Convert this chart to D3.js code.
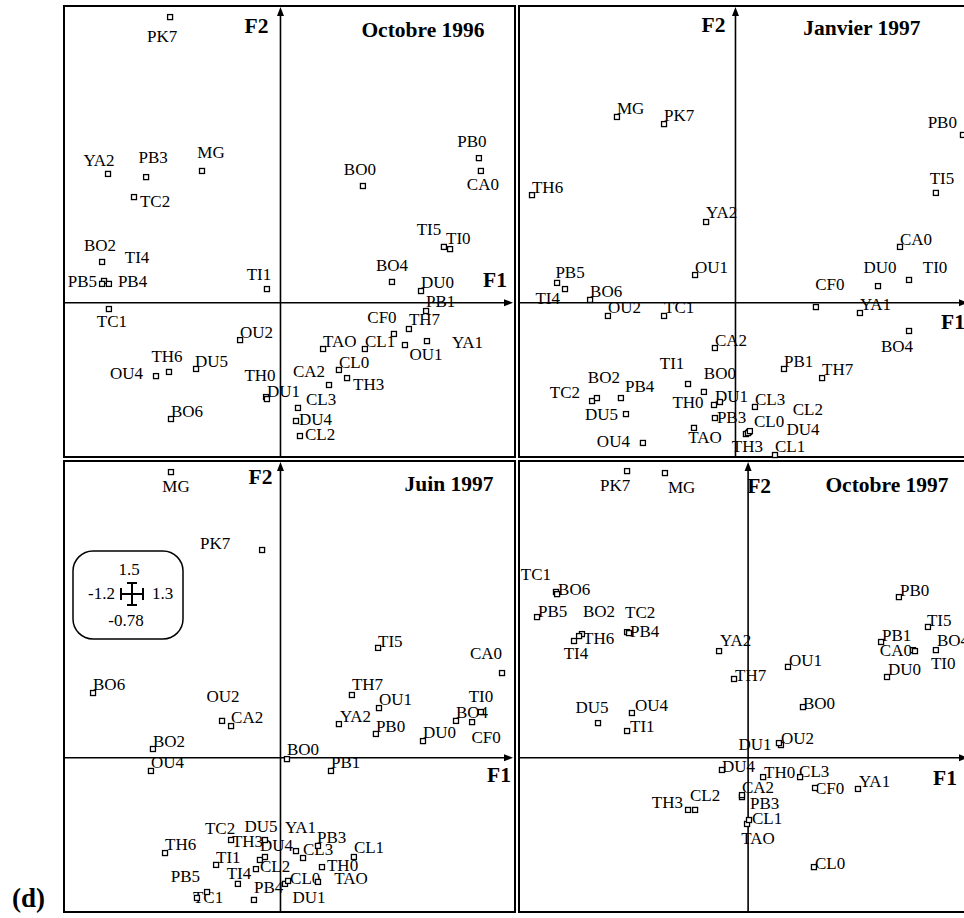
<!DOCTYPE html>
<html>
<head>
<meta charset="utf-8">
<script src="https://cdn.jsdelivr.net/npm/d3@7"></script>
<style>
  body { margin: 0; background: #fff; }
  svg { display: block; }
  text { font-family: "Liberation Serif", "Times New Roman", serif; fill: #000; }
</style>
</head>
<body>
<svg id="chart" width="964" height="918"></svg>
<script>
// sample codes, same order in every period
const samples = ["PK7","MG","YA2","PB3","TC2","BO0","PB0","CA0","BO2","TI4","PB5","PB4","TI1","TC1","OU2","TH6","OU4","DU5","BO6","TH0","DU1","TI5","TI0","BO4","DU0","PB1","CF0","TH7","TAO","CL1","OU1","YA1","CL0","TH3","CA2","CL3","DU4","CL2"]

const periods = ["Octobre 1996", "Janvier 1997", "Juin 1997", "Octobre 1997"]

// F1 / F2 coordinates
const f1Oct96 = [-0.612,-0.435,-0.956,-0.745,-0.812,0.457,1.100,1.111,-0.989,-0.978,-0.989,-0.951,-0.075,-0.951,-0.224,-0.618,-0.690,-0.468,-0.607,-0.080,-0.075,0.906,0.940,0.618,0.779,0.807,0.629,0.712,0.236,0.468,0.690,0.812,0.324,0.369,0.269,0.097,0.086,0.108]
const f2Oct96 = [1.444,0.666,0.651,0.635,0.534,0.590,0.731,0.666,0.206,0.110,0.095,0.095,0.069,-0.032,-0.189,-0.350,-0.371,-0.335,-0.588,-0.477,-0.487,0.282,0.271,0.105,0.059,-0.042,-0.158,-0.133,-0.234,-0.234,-0.214,-0.194,-0.340,-0.381,-0.416,-0.532,-0.598,-0.674]

const f1Jan97 = [-0.396,-0.657,-0.163,-0.114,-0.795,-0.175,1.261,0.912,-0.768,-0.945,-0.989,-0.635,-0.263,-0.396,-0.707,-1.128,-0.513,-0.607,-0.806,-0.119,-0.086,1.111,0.962,0.962,0.790,0.269,0.446,0.480,-0.230,0.219,-0.224,0.690,0.075,0.058,-0.114,0.108,0.069,0.080]
const f2Jan97 = [0.903,0.939,0.408,-0.583,-0.497,-0.451,0.848,0.282,-0.482,0.069,0.100,-0.482,-0.411,-0.067,-0.067,0.544,-0.709,-0.563,0.014,-0.517,-0.502,0.555,0.115,-0.143,0.084,-0.335,-0.022,-0.381,-0.633,-0.770,0.140,-0.052,-0.654,-0.664,-0.229,-0.527,-0.659,-0.649]

const f1Jun97 = [-0.102,-0.607,0.324,0.208,-0.274,0.036,0.529,1.228,-0.707,-0.236,-0.407,-0.147,-0.357,-0.463,-0.324,-0.640,-0.718,-0.086,-1.039,0.230,0.025,0.541,1.111,0.973,0.790,0.280,1.062,0.396,0.208,0.407,0.546,-0.086,0.042,-0.114,-0.274,0.125,0.086,-0.136]
const f2Jun97 = [1.050,1.444,0.170,-0.446,-0.416,-0.007,0.120,0.428,0.044,-0.638,-0.679,-0.719,-0.542,-0.709,0.186,-0.482,-0.067,-0.416,0.327,-0.553,-0.638,0.555,0.231,0.186,0.084,-0.067,0.180,0.317,-0.628,-0.502,0.251,-0.502,-0.623,-0.517,0.160,-0.507,-0.472,-0.563]

const f1Oct97 = [-0.671,-0.461,-0.161,-0.034,-0.671,0.304,0.836,0.914,-0.921,-0.965,-1.170,-0.660,-0.671,-1.065,0.182,-0.937,-0.644,-0.832,-1.059,0.083,0.171,0.997,0.925,1.041,0.770,0.737,0.371,-0.078,-0.006,0.005,0.221,0.609,0.365,-0.333,-0.034,0.288,-0.145,-0.294]
const f2Oct97 = [1.449,1.439,0.539,-0.199,0.635,0.256,0.812,0.544,0.625,0.590,0.711,0.630,0.135,0.838,0.064,0.615,0.226,0.175,0.827,-0.098,0.074,0.661,0.539,0.544,0.408,0.585,-0.153,0.398,-0.335,-0.315,0.459,-0.158,-0.553,-0.264,-0.189,-0.098,-0.062,-0.264]

// plotted range of each map
const f1Range = [[-1.2, 1.3], [-1.2, 1.3], [-1.2, 1.3], [-1.27, 1.23]]
const f2Range = [[-0.78, 1.5], [-0.78, 1.5], [-0.78, 1.5], [-0.78, 1.5]]

// label placement next to each point: dx, dy (px), anchor s/m/e
const labOct96 = {PK7:[-8,25,"m"],MG:[9,-13,"m"],YA2:[-9,-8,"m"],PB3:[7,-14,"m"],TC2:[6,10,"s"],BO0:[-3,-11,"m"],PB0:[-7,-11,"m"],CA0:[2,19,"m"],BO2:[-2,-11,"m"],TI4:[33,-18,"m"],PB5:[-5,3,"e"],PB4:[9,3,"s"],TI1:[-8,-9,"m"],TC1:[3,18,"m"],OU2:[0,-2,"s"],TH6:[-2,-10,"m"],OU4:[-13,3,"e"],DU5:[-1,-2,"s"],BO6:[0,-2,"s"],TH0:[-6,-16,"m"],DU1:[0,-2,"s"],TI5:[-15,-12,"m"],TI0:[-4,-5,"s"],BO4:[0,-11,"m"],DU0:[0,-3,"s"],PB1:[0,-4,"s"],CF0:[-12,-11,"m"],TH7:[0,-4,"s"],TAO:[0,-2,"s"],CL1:[0,-2,"s"],OU1:[21,15,"m"],YA1:[25,7,"s"],CL0:[0,-2,"s"],TH3:[6,12,"s"],CA2:[-20,-8,"m"],CL3:[8,-3,"s"],DU4:[3,4,"s"],CL2:[5,4,"s"]}
const labJan97 = {MG:[0,-3,"s"],PK7:[0,-3,"s"],TH6:[0,-2,"s"],YA2:[0,-4,"s"],PB0:[-6,-7,"e"],TI5:[6,-9,"m"],PB5:[13,-5,"m"],TI4:[-5,15,"e"],BO6:[0,-3,"s"],OU1:[0,-2,"s"],OU2:[0,-3,"s"],TC1:[0,-3,"s"],CA2:[0,-2,"s"],TI1:[-16,-15,"m"],BO0:[16,-13,"m"],BO2:[7,-15,"m"],TC2:[-12,-3,"e"],PB4:[4,-6,"s"],DU5:[-8,6,"e"],TH0:[-26,3,"m"],DU1:[-5,0,"s"],PB3:[2,5,"s"],TAO:[11,15,"m"],OU4:[-13,4,"e"],CA0:[0,-2,"s"],DU0:[2,-13,"m"],TI0:[26,-7,"m"],CF0:[14,-17,"m"],YA1:[0,-3,"s"],BO4:[-12,21,"m"],PB1:[0,-2,"s"],TH7:[0,-3,"s"],CL3:[0,-2,"s"],CL2:[58,-16,"m"],CL0:[5,-5,"s"],DU4:[55,2,"m"],TH3:[17,18,"e"],CL1:[0,-3,"s"]}
const labJun97 = {MG:[5,20,"m"],PK7:[-47,-1,"m"],BO6:[0,-3,"s"],OU2:[1,-19,"m"],CA2:[0,-3,"s"],BO2:[0,-2,"s"],OU4:[0,-3,"s"],BO0:[0,-4,"s"],TI5:[0,-1,"s"],CA0:[-16,-14,"m"],TH7:[0,-5,"s"],OU1:[0,-3,"s"],YA2:[1,-2,"s"],PB0:[0,-2,"s"],TI0:[0,-10,"m"],BO4:[0,-3,"s"],CF0:[14,21,"m"],DU0:[0,-3,"s"],PB1:[0,-3,"s"],TC2:[-11,-6,"m"],TH3:[-28,-13,"s"],DU5:[-4,-8,"m"],DU4:[-3,0,"e"],YA1:[20,-24,"s"],CL2:[4,3,"s"],CL3:[0,-3,"s"],PB3:[-1,-3,"s"],CL1:[0,-4,"s"],TH6:[0,-3,"s"],TI1:[0,-2,"s"],TH0:[5,4,"s"],PB5:[-7,-10,"e"],TI4:[1,-5,"m"],CL0:[2,3,"s"],DU1:[24,19,"m"],TAO:[33,2,"m"],TC1:[-4,5,"s"],PB4:[0,-7,"s"]}
const labOct97 = {PK7:[-12,20,"m"],MG:[3,20,"s"],YA2:[1,-5,"s"],PB3:[8,12,"s"],TC2:[-2,-14,"s"],BO0:[0,2,"s"],PB0:[1,-1,"s"],CA0:[-1,6,"e"],BO2:[1,-17,"s"],TI4:[2,18,"m"],PB5:[1,0,"s"],PB4:[1,4,"s"],TI1:[3,1,"s"],TC1:[-20,-12,"m"],OU2:[0,-1,"s"],TH6:[4,8,"s"],OU4:[3,-2,"s"],DU5:[-6,-10,"m"],BO6:[1,1,"s"],TH0:[1,1,"s"],DU1:[-24,7,"m"],TI5:[-1,-1,"s"],TI0:[16,18,"s"],BO4:[1,-4,"s"],DU0:[1,-2,"s"],PB1:[1,-1,"s"],CF0:[0,6,"s"],TH7:[1,2,"s"],TAO:[11,20,"m"],CL1:[3,4,"s"],OU1:[1,-1,"s"],YA1:[1,-2,"s"],CL0:[1,2,"s"],TH3:[-5,-2,"e"],CA2:[0,-2,"s"],CL3:[-1,0,"s"],DU4:[0,2,"s"],CL2:[10,-9,"m"]}

const W = 451, H = 451
const panels = [
  { f1: f1Oct96, f2: f2Oct96, lab: labOct96, left: 64, top: 6, titleX: 423, titleY: 37, f1dx: -8, f1dy: -16, f2dx: -12, f2dy: 27 },
  { f1: f1Jan97, f2: f2Jan97, lab: labJan97, left: 519, top: 6, titleX: 862, titleY: 35, f1dx: -5, f1dy: 26, f2dx: -10, f2dy: 26 },
  { f1: f1Jun97, f2: f2Jun97, lab: labJun97, left: 64, top: 461, titleX: 449, titleY: 491, f1dx: -4, f1dy: 24, f2dx: -8, f2dy: 23 },
  { f1: f1Oct97, f2: f2Oct97, lab: labOct97, left: 519, top: 461, titleX: 887, titleY: 492, f1dx: -13, f1dy: 27, f2dx: 11, f2dy: 32 }
]

const anchor = { s: "start", m: "middle", e: "end" }
const svg = d3.select("#chart")

panels.forEach((p, i) => {
  const x = d3.scaleLinear().domain(f1Range[i]).range([p.left, p.left + W])
  const y = d3.scaleLinear().domain(f2Range[i]).range([p.top + H, p.top])
  const g = svg.append("g")
  const ox = x(0), oy = y(0)

  g.append("rect")
    .attr("x", p.left).attr("y", p.top).attr("width", W).attr("height", H)
    .attr("fill", "none").attr("stroke", "#000").attr("stroke-width", 2)

  // axes with arrowheads
  g.append("line").attr("x1", ox).attr("x2", ox).attr("y1", p.top + H).attr("y2", p.top + 6)
    .attr("stroke", "#000").attr("stroke-width", 1.6)
  g.append("path").attr("d", `M${ox},${p.top + 1}L${ox - 3.5},${p.top + 10}L${ox + 3.5},${p.top + 10}Z`)
  g.append("line").attr("x1", p.left).attr("x2", p.left + W - 6).attr("y1", oy).attr("y2", oy)
    .attr("stroke", "#000").attr("stroke-width", 1.6)
  g.append("path").attr("d", `M${p.left + W - 2},${oy}L${p.left + W - 11},${oy - 3.5}L${p.left + W - 11},${oy + 3.5}Z`)

  g.append("text").attr("x", ox + p.f2dx).attr("y", p.top + p.f2dy)
    .attr("text-anchor", p.f2dx < 0 ? "end" : "middle")
    .style("font-size", "21.5px").style("font-weight", "bold").text("F2")
  g.append("text").attr("x", p.left + W + p.f1dx).attr("y", oy + p.f1dy)
    .attr("text-anchor", "end")
    .style("font-size", "21.5px").style("font-weight", "bold").text("F1")
  g.append("text").attr("x", p.titleX).attr("y", p.titleY)
    .attr("text-anchor", "middle")
    .style("font-size", "21.5px").style("font-weight", "bold").text(periods[i])

  g.selectAll("text.lbl").data(samples).join("text")
    .attr("class", "lbl")
    .attr("x", (d, j) => x(p.f1[j]) + p.lab[d][0])
    .attr("y", (d, j) => y(p.f2[j]) + p.lab[d][1])
    .attr("text-anchor", (d) => anchor[p.lab[d][2]])
    .style("font-size", "17px")
    .text((d) => d)

  g.selectAll("rect.pt").data(samples).join("rect")
    .attr("class", "pt")
    .attr("x", (d, j) => x(p.f1[j]) - 2.5)
    .attr("y", (d, j) => y(p.f2[j]) - 2.5)
    .attr("width", 5).attr("height", 5)
    .attr("fill", "#fff").attr("stroke", "#000").attr("stroke-width", 1.3)

  // range key, only on the Juin 1997 map
  if (i === 2) {
    const k = g.append("g").attr("transform", `translate(${p.left + 68},${p.top + 133})`)
    k.append("rect").attr("x", -59).attr("y", -43).attr("width", 110).attr("height", 88).attr("rx", 20)
      .attr("fill", "none").attr("stroke", "#000").attr("stroke-width", 1.5)
    const cross = "M-11,0H11M0,-11V11M-11,-6V6M11,-6V6M-5,-11H5M-5,11H5"
    k.append("path").attr("d", cross).attr("stroke", "#000").attr("stroke-width", 2).attr("fill", "none")
    k.append("text").attr("x", -3).attr("y", -19).attr("text-anchor", "middle").style("font-size", "17px").text(f2Range[i][1])
    k.append("text").attr("x", -17).attr("y", 5).attr("text-anchor", "end").style("font-size", "17px").text(f1Range[i][0])
    k.append("text").attr("x", 20).attr("y", 5).attr("text-anchor", "start").style("font-size", "17px").text(f1Range[i][1])
    k.append("text").attr("x", -6).attr("y", 32).attr("text-anchor", "middle").style("font-size", "17px").text(f2Range[i][0])
  }
})

svg.append("text").attr("x", 12).attr("y", 907)
  .style("font-size", "27px").style("font-weight", "bold").text("(d)")
</script>
</body>
</html>
